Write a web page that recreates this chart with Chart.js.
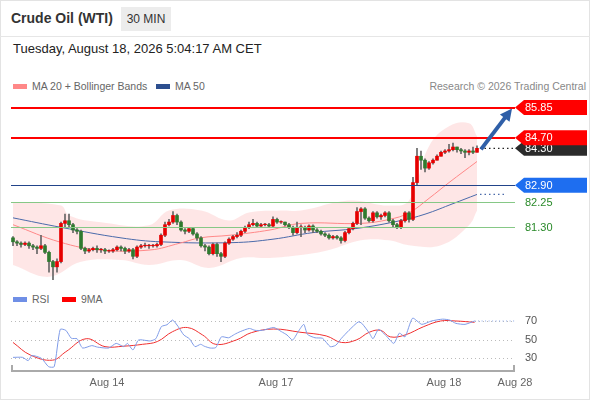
<!DOCTYPE html>
<html><head><meta charset="utf-8">
<script src="https://cdn.jsdelivr.net/npm/chart.js@4"></script>
<style>
body{margin:0;width:590px;height:400px;position:relative;font-family:"Liberation Sans",Arial,sans-serif;background:#fff;overflow:hidden}
#frame{position:absolute;left:0;top:0;width:588px;height:398px;border:1px solid #e3e3e3}
#hdr{position:absolute;left:0;top:0;width:590px;height:36px;border-bottom:1px solid #e6e6e6}
#title{position:absolute;left:11px;top:10px;font-size:14px;font-weight:bold;color:#333}
#tf{position:absolute;left:121px;top:7px;width:50px;height:24px;background:#ececec;font-size:12px;color:#333;text-align:center;line-height:24px}
#date{position:absolute;left:13px;top:41px;font-size:13px;color:#222}
.lg{position:absolute;font-size:10.5px;color:#666}
.sw{position:absolute;width:14px;height:5px}
canvas{position:absolute;left:0;top:0}
</style></head><body>
<div id="frame"></div>
<div id="hdr"><div id="title">Crude Oil (WTI)</div><div id="tf">30 MIN</div></div>
<div id="date">Tuesday, August 18, 2026 5:04:17 AM CET</div>
<div class="sw" style="left:13px;top:84px;background:#f88"></div><div class="lg" style="left:32px;top:80px">MA 20 + Bollinger Bands</div>
<div class="sw" style="left:156px;top:84px;background:#2d4f8f"></div><div class="lg" style="left:175px;top:80px">MA 50</div>
<div class="lg" style="right:4px;top:80px;color:#888">Research © 2026 Trading Central</div>
<div class="sw" style="left:13px;top:297px;background:#6f8fe6"></div><div class="lg" style="left:32px;top:293px">RSI</div>
<div class="sw" style="left:62px;top:297px;background:#f00"></div><div class="lg" style="left:81px;top:293px">9MA</div>
<canvas id="c1" width="590" height="400"></canvas>
<canvas id="c2" width="590" height="400"></canvas>
<script>
const closes=[80.75,80.7,80.65,80.7,80.6,80.55,80.5,80.6,80.35,80.0,79.8,80.0,81.45,81.55,81.4,81.2,81.15,80.5,80.4,80.45,80.5,80.45,80.45,80.4,80.4,80.45,80.55,80.5,80.4,80.45,80.2,80.55,80.6,80.6,80.6,80.6,80.65,81.0,81.4,81.5,81.75,81.5,81.2,81.15,81.25,81.05,80.9,80.6,80.55,80.3,80.65,80.3,80.2,80.7,80.85,80.95,81.0,81.15,81.3,81.4,81.45,81.35,81.4,81.4,81.35,81.6,81.5,81.5,81.4,81.3,81.1,81.3,81.3,81.2,81.35,81.2,81.15,81.05,81.0,80.9,80.95,80.9,80.8,81.1,81.25,81.45,81.9,82.0,81.65,81.55,81.85,81.7,81.75,81.85,81.55,81.4,81.3,81.55,81.85,81.6,83.0,84.0,83.85,83.55,83.75,83.85,84.0,84.15,84.2,84.25,84.35,84.25,84.2,84.15,84.2,84.15,84.3];
const opens=[80.9,80.75,80.7,80.65,80.7,80.6,80.55,80.5,80.6,80.35,80.0,79.8,80.0,81.45,81.55,81.4,81.2,81.15,80.5,80.4,80.45,80.5,80.45,80.45,80.4,80.4,80.45,80.55,80.5,80.4,80.45,80.2,80.55,80.6,80.6,80.6,80.6,80.65,81.0,81.4,81.5,81.75,81.5,81.2,81.15,81.25,81.05,80.9,80.6,80.55,80.3,80.65,80.3,80.2,80.7,80.85,80.95,81.0,81.15,81.3,81.4,81.45,81.35,81.4,81.4,81.35,81.6,81.5,81.5,81.4,81.3,81.1,81.3,81.3,81.2,81.35,81.2,81.15,81.05,81.0,80.9,80.95,80.9,80.8,81.1,81.25,81.45,81.9,82.0,81.65,81.55,81.85,81.7,81.75,81.85,81.55,81.4,81.3,81.55,81.85,81.6,83.0,84.0,83.85,83.55,83.75,83.85,84.0,84.15,84.2,84.25,84.35,84.25,84.2,84.15,84.2,84.15];
const highs=[80.95,80.8,80.75,80.75,80.75,80.65,80.6,81.0,80.65,80.4,80.05,80.1,81.5,81.8,81.8,81.45,81.25,81.2,80.55,80.5,80.55,80.6,80.5,80.5,80.45,80.5,80.6,80.6,80.55,80.5,80.5,80.6,80.65,80.7,80.65,80.65,80.7,81.05,81.5,81.6,81.9,81.8,81.55,81.25,81.3,81.3,81.1,80.95,80.65,80.6,80.7,80.7,80.35,80.75,80.9,81.0,81.1,81.2,81.35,81.5,81.6,81.5,81.45,81.45,81.45,81.7,81.65,81.55,81.5,81.45,81.35,81.5,81.4,81.35,81.4,81.4,81.25,81.2,81.1,81.05,81.0,81.0,80.95,81.15,81.3,81.5,82.05,82.05,82.05,81.7,81.9,81.9,81.8,81.9,81.9,81.6,81.45,81.6,81.9,81.9,83.2,84.3,84.2,83.9,83.8,83.9,84.05,84.2,84.25,84.45,84.5,84.35,84.3,84.25,84.25,84.35,84.4];
const lows=[80.6,80.6,80.55,80.6,80.5,80.45,80.3,80.45,80.3,79.6,79.3,79.6,79.95,81.3,81.3,81.1,81.05,80.45,80.3,80.35,80.4,80.35,80.35,80.3,80.35,80.35,80.4,80.4,80.3,80.35,80.1,80.15,80.5,80.55,80.5,80.55,80.55,80.6,80.95,81.35,81.45,81.4,81.15,81.05,81.1,81.0,80.8,80.55,80.4,80.25,80.25,80.2,80.0,80.15,80.65,80.8,80.9,80.95,81.1,81.25,81.35,81.3,81.3,81.35,81.3,81.3,81.45,81.45,81.35,81.25,81.0,81.05,80.95,81.1,81.15,81.1,81.1,81.0,80.95,80.85,80.85,80.85,80.7,80.75,81.05,81.2,81.4,81.4,81.6,81.5,81.5,81.65,81.6,81.7,81.5,81.3,81.25,81.25,81.5,81.5,81.55,82.9,83.5,83.4,83.5,83.7,83.85,84.0,84.1,84.15,84.2,84.15,84.1,83.95,84.05,84.1,84.15];
const ma20X=[0,11.75,21.75,34.25,41.75,46.75,54.25,64.25,72,87,94,99,104,109,116];
const ma20Y=[81.4,80.74,80.44,80.44,80.7,80.9,81.0,81.2,81.45,81.45,81.6,81.85,82.4,83.0,83.8];
const ma50X=[0,12,27,37,55,65,75,86,97,103,110,116];
const ma50Y=[81.66,81.3,80.9,80.75,80.72,80.85,81.1,81.26,81.56,81.8,82.2,82.55];
const bbUpX=[0,12,14,22,34,39,47,54,59,67,72,84,94,99,104,109,114,116];
const bbUpY=[82.24,82.13,81.75,81.49,81.38,81.94,81.94,81.56,81.86,81.94,81.94,82.32,82.13,82.32,84.38,85.14,85.25,84.76];
const bbLoX=[0,9,17,27,34,42,49,57,64,72,79,87,94,99,107,114,116];
const bbLoY=[79.87,79.42,79.99,80.06,79.87,80.06,79.76,80.14,80.14,80.25,80.44,80.81,80.81,80.62,80.62,81.38,81.94];
const levels=[85.85,84.70,82.90,82.25,81.30];
const levelLabels=["85.85","84.70","82.90","82.25","81.30"];
const lastPrice=84.30;
const rsiX=[0,2.4,3.8,4.7,7.1,8.9,10.3,11.8,13.2,14.6,16,17.4,19.7,21.1,23.9,25.8,27.7,28.6,30,31.4,34.3,35.7,37.1,38.5,39.9,41.3,42.7,44.1,45.5,46.9,47.8,49.3,50.7,52.1,53.9,55.4,56.8,59.1,60.5,62.4,65.2,67.1,68.5,69.9,71.3,72.7,73.6,75.5,77.4,79.3,80.7,82.1,84,86.3,87.2,89.1,90,91.4,93.3,95.2,96.6,98,99.9,102.2,104.6,107.4,109.2,110.7,113,115.4];
const rsiY=[31,31,27.5,33,30,21,21,61,60,51.4,51,41,43.6,42,41,46,42.5,46,39,49.6,48.6,51,64,66,71,64,55,51,42.5,45,43,41,41.5,53,52,55.7,58.6,62,60,60,63,58.6,55,49.6,58.6,66.4,55.7,52,51.4,42.5,44,51.4,60,69,67.5,57,51,61,54,46,57,53,73,66.4,70,72,71,67.5,66.4,70];
const maX=[0,4.3,9.9,13.2,18.3,23,27.7,32.4,36.1,39.9,43.6,47.4,50.7,55.8,59.6,65.2,71.7,78.3,82.1,85.8,89.1,91.9,94.3,98,102.7,106.9,110.7,115.4];
const maY=[47,33.6,28,37,51,42.5,43,45,48,58.6,63,55,45,49.6,57.5,61.4,58,54,47,49.6,58,60,53,55,64,70,70,68.6];
const rsiTicks=[30,50,70];
const xTickPos=[23.5,65.75,107.75,125.5];
const xTickLabels=["Aug 14","Aug 17","Aug 18","Aug 28"];

const pts=(xs,ys)=>xs.map((x,i)=>({x,y:ys[i]}));
const RED='#e60000',GRN='#2f7a2f';
const candleCol=closes.map((c,i)=>c>=opens[i]?RED:GRN);
const xScale=()=>({type:'linear',min:-0.5,max:125.5,display:false,offset:false,grid:{offset:false}});

const overlay={id:'ov',afterDatasetsDraw(ch){
  const c=ch.ctx,y=ch.scales.y,x=ch.scales.x,L=ch.chartArea.left,R=ch.chartArea.right;
  const cols=['#f00','#f00','#22448a','#86c886','#86c886'];
  const lw=[2,2,1,1,1];
  c.save();
  levels.forEach((v,i)=>{const py=Math.round(y.getPixelForValue(v))+(lw[i]==1?0.5:0);c.strokeStyle=cols[i];c.lineWidth=lw[i];c.beginPath();c.moveTo(L,py);c.lineTo(R,py);c.stroke();});
  const lx=x.getPixelForValue(closes.length-1);
  c.setLineDash([1.5,3]);c.lineWidth=1.2;
  c.strokeStyle='#222';c.beginPath();c.moveTo(lx+3,y.getPixelForValue(lastPrice));c.lineTo(R,y.getPixelForValue(lastPrice));c.stroke();
  c.strokeStyle='#4a6aaa';c.beginPath();c.moveTo(lx+3,y.getPixelForValue(ma50Y[ma50Y.length-1]));c.lineTo(R-8,y.getPixelForValue(ma50Y[ma50Y.length-1]));c.stroke();
  c.setLineDash([]);
  const tag=(v,bg,txt,fg)=>{const py=y.getPixelForValue(v);if(bg){c.fillStyle=bg;c.beginPath();c.moveTo(R,py);c.lineTo(R+9,py-7.5);c.lineTo(587,py-7.5);c.lineTo(587,py+7.5);c.lineTo(R+9,py+7.5);c.closePath();c.fill();}
    c.fillStyle=fg;c.font='11px "Liberation Sans",Arial';c.textBaseline='middle';c.fillText(txt,R+10,py+0.5);};
  tag(lastPrice,'#2b2b2b','84.30','#fff');
  tag(85.85,'#f00','85.85','#fff');tag(84.70,'#f00','84.70','#fff');
  tag(82.90,'#1e6ef0','82.90','#fff');
  tag(82.25,null,'82.25','#2a8a2a');tag(81.30,null,'81.30','#2a8a2a');
  const ax=lx+4,ay=y.getPixelForValue(lastPrice)+1,bx=R-3,by=y.getPixelForValue(85.85)+1;
  const ang=Math.atan2(by-ay,bx-ax);
  c.strokeStyle='#2f5fa8';c.fillStyle='#2f5fa8';c.lineWidth=4;c.beginPath();c.moveTo(ax,ay);c.lineTo(bx-8*Math.cos(ang),by-8*Math.sin(ang));c.stroke();
  c.beginPath();c.moveTo(bx,by);c.lineTo(bx-12*Math.cos(ang)+6*Math.sin(ang),by-12*Math.sin(ang)-6*Math.cos(ang));c.lineTo(bx-12*Math.cos(ang)-6*Math.sin(ang),by-12*Math.sin(ang)+6*Math.cos(ang));c.closePath();c.fill();
  c.restore();
}};

new Chart(document.getElementById('c1'),{
  data:{datasets:[
    {type:'line',data:pts(bbUpX,bbUpY),borderWidth:0,pointRadius:0,tension:0.4,fill:'+1',backgroundColor:'rgba(252,200,200,0.45)',order:5},
    {type:'line',data:pts(bbLoX,bbLoY),borderWidth:0,pointRadius:0,tension:0.4,fill:false,order:5},
    {type:'line',data:pts(ma20X,ma20Y),borderColor:'#f88',borderWidth:1,pointRadius:0,tension:0.4,order:4},
    {type:'line',data:pts(ma50X,ma50Y),borderColor:'#4a6aaa',borderWidth:1,pointRadius:0,tension:0.4,order:4},
    {type:'bar',data:closes.map((c,i)=>({x:i,y:[lows[i],highs[i]]})),backgroundColor:'#666',barThickness:1,grouped:false,order:2},
    {type:'bar',data:closes.map((c,i)=>({x:i,y:[opens[i],c===opens[i]?c+0.02:c]})),backgroundColor:candleCol,barThickness:3,grouped:false,order:1}
  ]},
  options:{responsive:false,animation:false,devicePixelRatio:1,
    layout:{padding:{left:11,right:75,top:97,bottom:120}},
    plugins:{legend:{display:false},tooltip:{enabled:false}},
    scales:{x:xScale(),y:{min:79.3,max:86.25,display:false}}},
  plugins:[overlay]
});

const rsiOv={id:'rov',beforeDatasetsDraw(ch){
  const c=ch.ctx,y=ch.scales.y,L=ch.chartArea.left,R=ch.chartArea.right;
  c.save();c.strokeStyle='#bbb';c.lineWidth=1;c.setLineDash([1,3]);
  rsiTicks.forEach(v=>{const py=Math.round(y.getPixelForValue(v))+0.5;c.beginPath();c.moveTo(L,py);c.lineTo(R,py);c.stroke();});
  c.setLineDash([]);c.fillStyle='#555';c.font='11px "Liberation Sans",Arial';c.textBaseline='middle';
  rsiTicks.forEach(v=>c.fillText(String(v),R+10,y.getPixelForValue(v)));
  c.restore();
},afterDatasetsDraw(ch){
  const c=ch.ctx,x=ch.scales.x,y=ch.scales.y,L=ch.chartArea.left,R=ch.chartArea.right,B=ch.chartArea.bottom;
  c.save();
  c.strokeStyle='#8faae8';c.setLineDash([1,2.5]);c.lineWidth=1;
  const py=y.getPixelForValue(rsiY[rsiY.length-1]);c.beginPath();c.moveTo(x.getPixelForValue(rsiX[rsiX.length-1]),py);c.lineTo(R,py);c.stroke();
  c.setLineDash([]);c.strokeStyle='#aaa';c.lineWidth=2;c.beginPath();c.moveTo(L+1,B-5);c.lineTo(L+1,B+1);c.lineTo(R-1,B+1);c.lineTo(R-1,B-5);c.stroke();
  c.fillStyle='#666';c.font='11px "Liberation Sans",Arial';c.textAlign='center';c.textBaseline='middle';
  xTickPos.forEach((p,i)=>c.fillText(xTickLabels[i],x.getPixelForValue(p),B+13));
  c.restore();
}};
new Chart(document.getElementById('c2'),{
  data:{datasets:[
    {type:'line',data:pts(rsiX,rsiY),borderColor:'#7f9be8',borderWidth:1,pointRadius:0,tension:0.2},
    {type:'line',data:pts(maX,maY),borderColor:'#f03030',borderWidth:1,pointRadius:0,tension:0.4}
  ]},
  options:{responsive:false,animation:false,devicePixelRatio:1,
    layout:{padding:{left:11,right:75,top:312,bottom:30}},
    plugins:{legend:{display:false},tooltip:{enabled:false}},
    scales:{x:xScale(),y:{min:17.45,max:79.65,display:false}}},
  plugins:[rsiOv]
});
</script>
</body></html>
